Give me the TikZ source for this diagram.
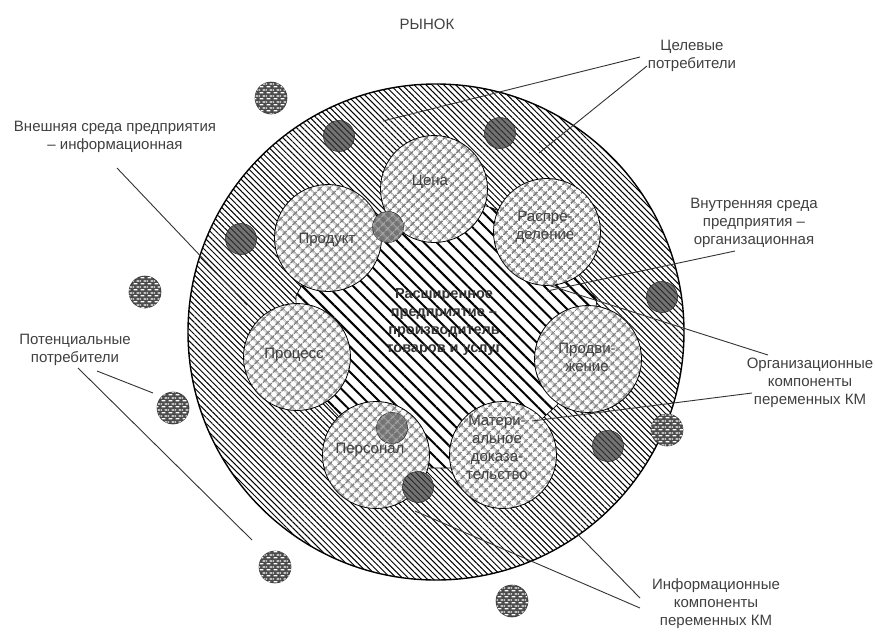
\documentclass[tikz,border=0pt]{standalone}
\usepackage{fontspec}
\setmainfont{Liberation Sans}
\usetikzlibrary{patterns,patterns.meta}

\pgfdeclarepatternformonly{wdash}{\pgfqpoint{0pt}{0pt}}{\pgfqpoint{7pt}{5.6pt}}{\pgfqpoint{7pt}{5.6pt}}{%
  \pgfsetlinewidth{1.3pt}%
  \pgfpathmoveto{\pgfqpoint{0.6pt}{1.4pt}}\pgfpathlineto{\pgfqpoint{4.8pt}{1.4pt}}%
  \pgfpathmoveto{\pgfqpoint{4.1pt}{4.2pt}}\pgfpathlineto{\pgfqpoint{7pt}{4.2pt}}%
  \pgfpathmoveto{\pgfqpoint{0pt}{4.2pt}}\pgfpathlineto{\pgfqpoint{1.3pt}{4.2pt}}%
  \pgfusepath{stroke}}

\tikzset{
  txt/.style={font=\fontsize{15}{18}\selectfont, text=black!75, align=center, inner sep=0pt},
  coretxt/.style={font=\bfseries\fontsize{14.5}{18}\selectfont, text=black!80, align=center, inner sep=0pt},
  lead/.style={draw=black!80, line width=0.9pt},
  ringfill/.style={pattern={Lines[angle=-45,distance=4.2pt,line width=1pt]}, pattern color=black},
  corefill/.style={pattern={Lines[angle=-45,distance=9pt,line width=2pt]}, pattern color=black},
  mixfill/.style={pattern={Hatch[angle=45,distance=6.5pt,line width=1.6pt]}, pattern color=black!50},
  tgt/.style={circle, minimum size=31pt, inner sep=0pt, fill=black!55, draw=black!80, line width=0.6pt,
    postaction={pattern={Lines[angle=-45,distance=4.2pt,line width=0.9pt]}, pattern color=black!85}},
  tgtmix/.style={circle, minimum size=31pt, inner sep=0pt, fill=black!55, draw=black!80, line width=0.6pt,
    postaction={pattern={Hatch[angle=45,distance=6.5pt,line width=1.2pt]}, pattern color=black!35}},
  pot/.style={circle, minimum size=32pt, inner sep=0pt, draw=black!80, line width=0.6pt, fill=black!70,
    postaction={pattern=wdash, pattern color=white}},
  elem/.style={circle, minimum size=107pt, inner sep=0pt, draw=black, line width=0.8pt,
    preaction={fill=white}, mixfill}
}

\begin{document}
\begin{tikzpicture}[x=1pt,y=-1pt]
\useasboundingbox[fill=white] (0,0) rectangle (875,633);

\node[txt] (title) at (427,24) {РЫНОК};

% market ring
\node[circle, minimum size=496pt, inner sep=0pt, draw=black, line width=1.4pt,
      preaction={fill=white}, ringfill] (market) at (436,332) {};

% target consumers in the ring
\node[tgt] (t1) at (339,136) {};
\node[tgt] (t2) at (500,133) {};
\node[tgt] (t3) at (241,239) {};
\node[tgt] (t4) at (662,297) {};
\node[tgt] (t5) at (608,446) {};

% core region
\path[preaction={fill=white}, corefill, draw=black, line width=0.7pt]
  (328,238) -- (385,222) -- (434,189) -- (492,208) -- (547,232) -- (597,300)
  -- (588,359) -- (557,405) -- (503,455) -- (452,468) -- (428,468) -- (375,455)
  -- (325,402) -- (297,357) -- (296,296) -- cycle;

% element circles
\node[elem] (cena) at (434,189) {};
\node[elem] (rasp) at (547,232) {};
\node[elem] (prod) at (328,238) {};
\node[elem] (proc) at (297,357) {};
\node[elem] (prom) at (588,359) {};
\node[elem] (pers) at (376,455) {};
\node[elem] (mat)  at (503,455) {};

% targets overlapping elements
\node[tgtmix] (t6) at (388,227) {};
\node[tgtmix] (t7) at (392,428) {};
\node[tgt] (t8) at (418,487) {};

% element labels
\node[txt] (lcena) at (430,182) {Цена};
\node[txt] (lrasp) at (545,227) {Распре-\\деление};
\node[txt] (lprod) at (327,240) {Продукт};
\node[txt] (lproc) at (294,355) {Процесс};
\node[txt] (lprom) at (587,357) {Продви-\\жение};
\node[txt] (lpers) at (370,450) {Персонал};
\node[txt] (lmat)  at (497,447) {Матери-\\альное\\доказа-\\тельство};

\node[coretxt] (core) at (444,322) {Расширенное\\предприятие –\\производитель\\товаров и услуг};

% potential consumers
\node[pot] (p1) at (271,98) {};
\node[pot] (p2) at (145,292) {};
\node[pot] (p3) at (173,408) {};
\node[pot] (p4) at (275,567) {};
\node[pot] (p5) at (512,601) {};
\node[pot] (p6) at (667,430) {};

% labels
\node[txt] (lblT) at (692,56) {Целевые\\потребители};
\node[txt] (lblE) at (115,137) {Внешняя среда предприятия\\– информационная};
\node[txt] (lblI) at (754,223) {Внутренняя среда\\предприятия –\\организационная};
\node[txt] (lblO) at (810,383) {Организационные\\компоненты\\переменных КМ};
\node[txt] (lblP) at (75,350) {Потенциальные\\потребители};
\node[txt] (lblF) at (716,604) {Информационные\\компоненты\\переменных КМ};

% leader coordinates
\coordinate (aT1) at (640,57);  \coordinate (eT1) at (383,121);
\coordinate (aT2) at (647,66);  \coordinate (eT2) at (539,153);
\coordinate (aE)  at (117,168); \coordinate (eE)  at (247,305);
\coordinate (aI)  at (735,251); \coordinate (eI)  at (547,291);
\coordinate (aO1) at (768,355); \coordinate (eO1) at (548,285);
\coordinate (aO2) at (752,393); \coordinate (eO2) at (532,421);
\coordinate (aP1) at (97,371);  \coordinate (eP1) at (153,393);
\coordinate (aP2) at (78,368);  \coordinate (eP2) at (252,540);
\coordinate (aF1) at (640,598); \coordinate (eF1) at (552,508);
\coordinate (aF2) at (640,608); \coordinate (eF2) at (415,511);

\draw[lead] (aT1) -- (eT1);
\draw[lead] (aT2) -- (eT2);
\draw[lead] (aE) -- (eE);
\draw[lead] (aI) -- (eI);
\draw[lead] (aO1) -- (eO1);
\draw[lead] (aO2) -- (eO2);
\draw[lead] (aP1) -- (eP1);
\draw[lead] (aP2) -- (eP2);
\draw[lead] (aF1) -- (eF1);
\draw[lead] (aF2) -- (eF2);
\end{tikzpicture}
\end{document}
